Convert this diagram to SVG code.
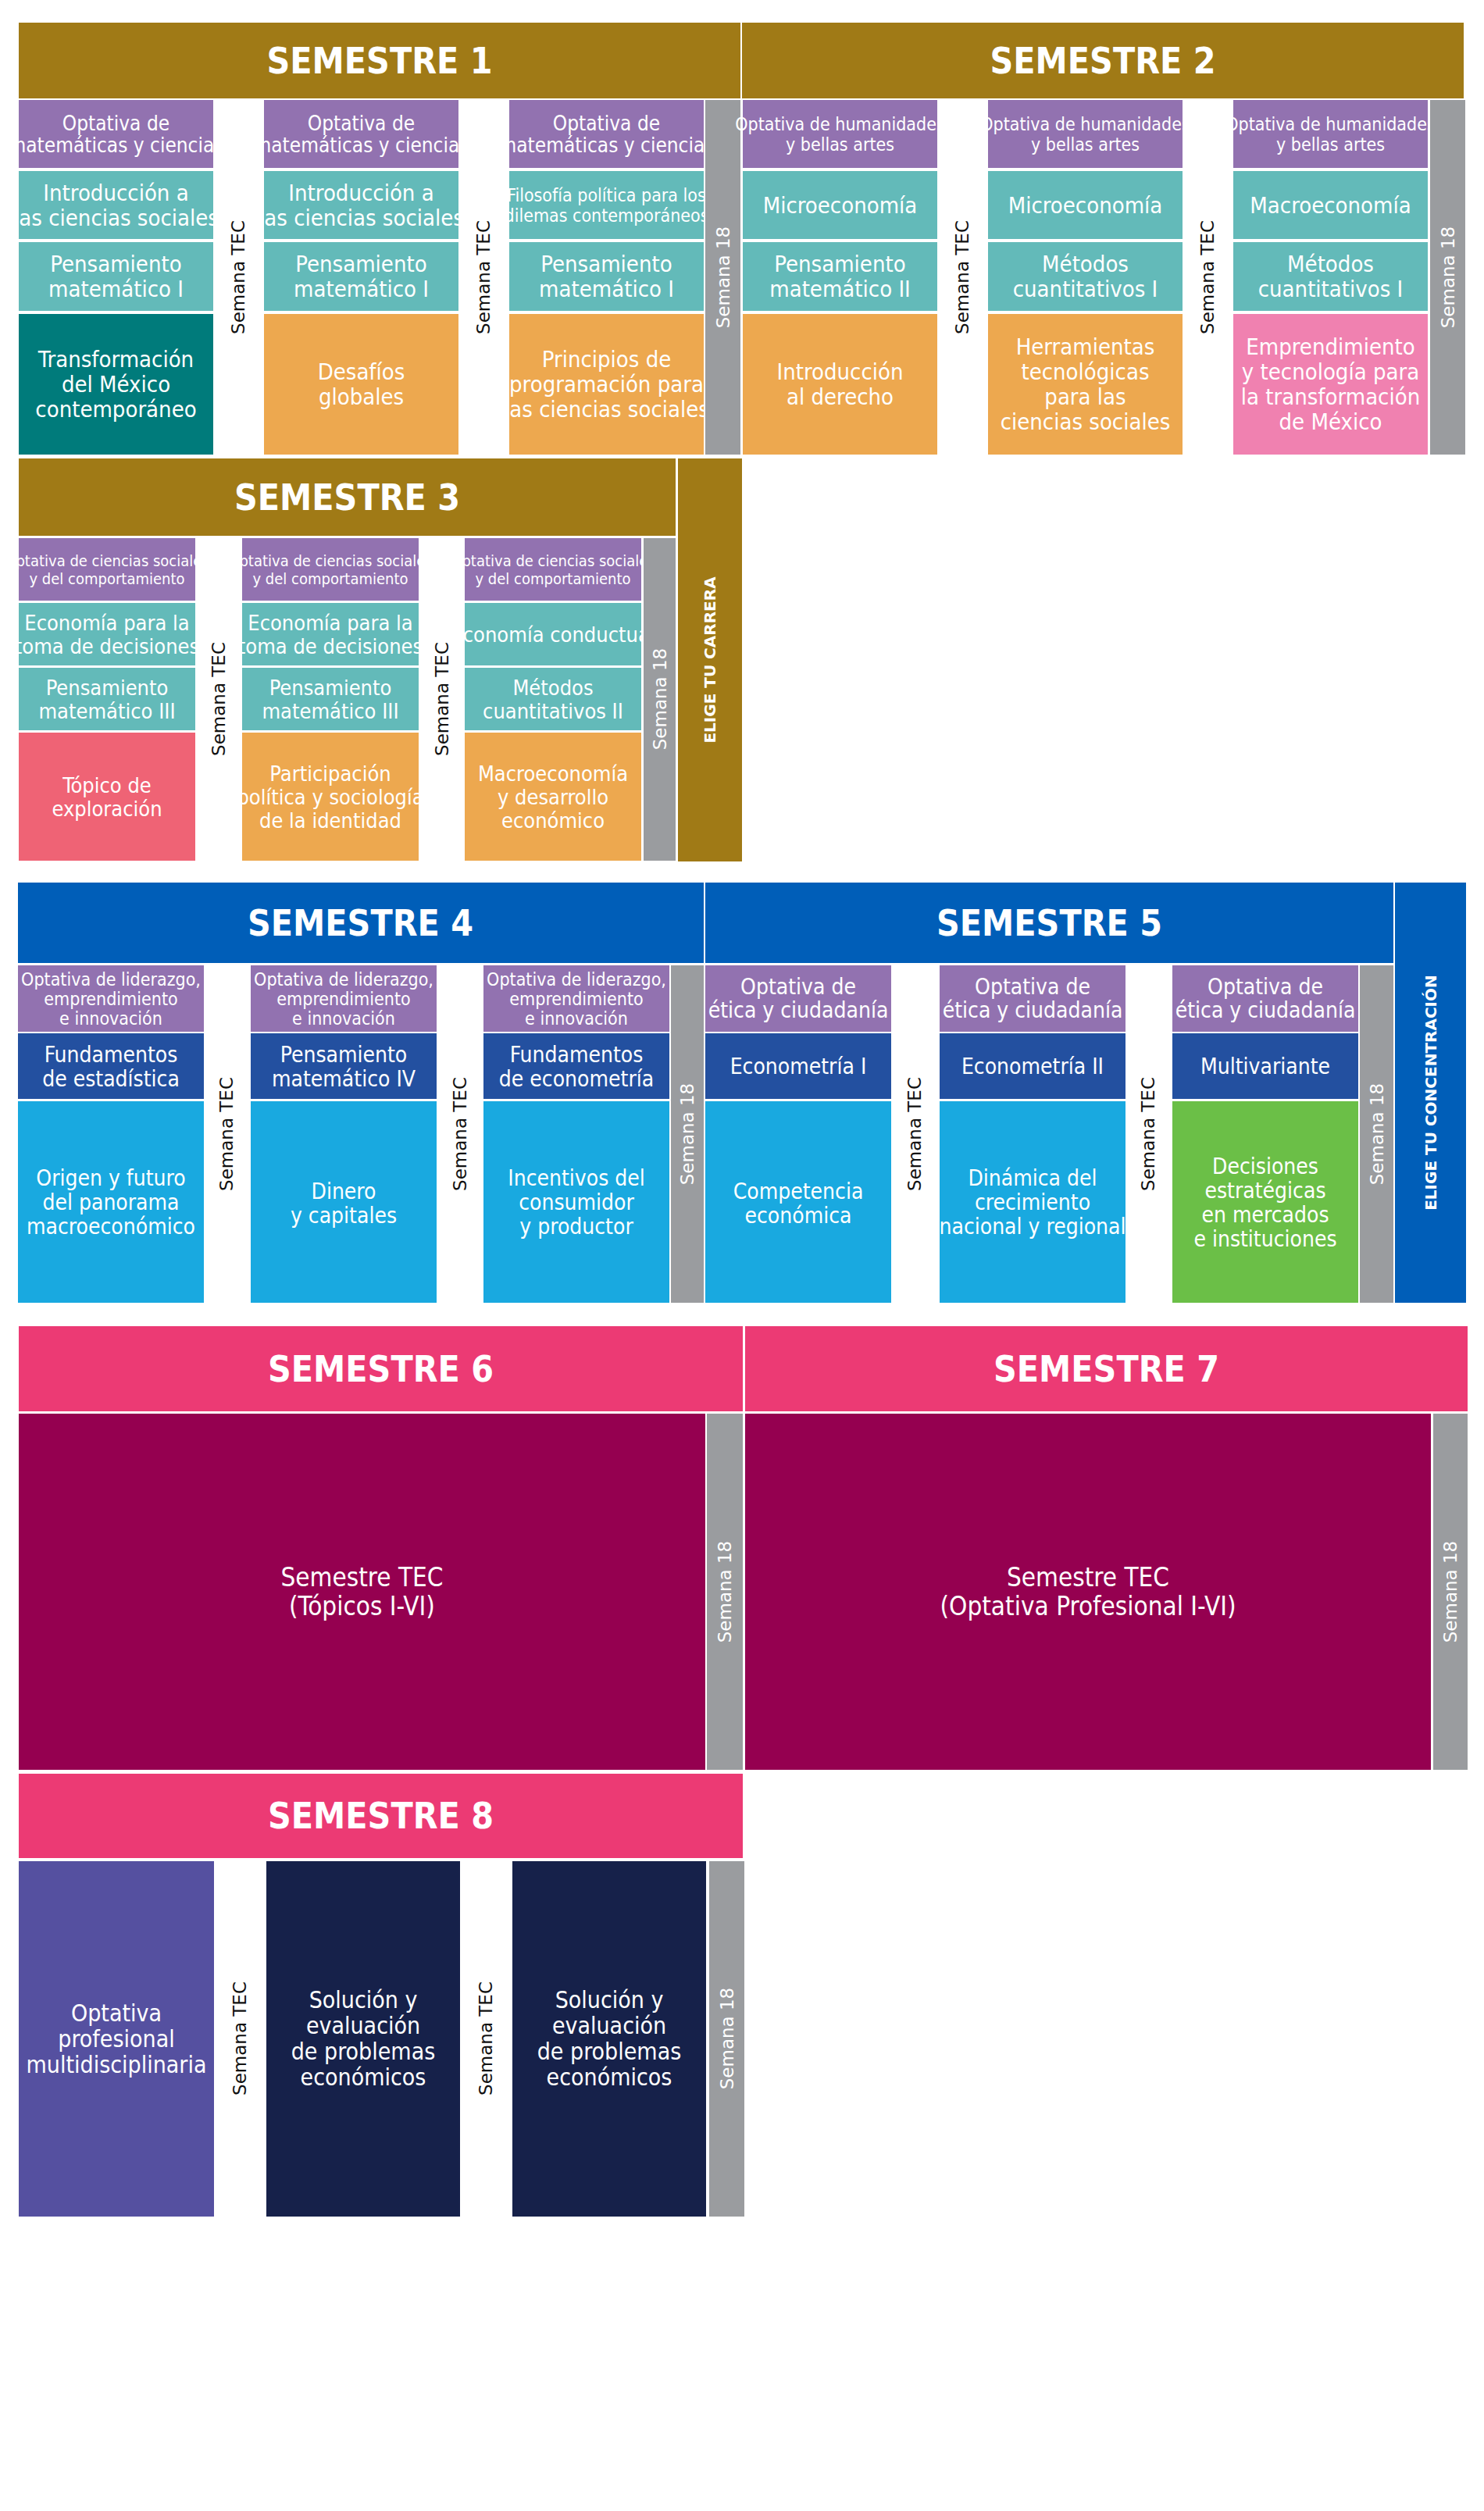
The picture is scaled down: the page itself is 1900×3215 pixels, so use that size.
<svg xmlns="http://www.w3.org/2000/svg" width="1900" height="3215" viewBox="0 0 1900 3215">
<style>
text{fill:#fff;text-anchor:middle;font-family:"Liberation Sans Narrow","DejaVu Sans Condensed","Roboto",sans-serif}
.h{font-size:46px;font-weight:bold}
.t30{font-size:29px}.t26{font-size:26px}.t23{font-size:23px}.s3a{font-size:20px}.s3{font-size:27px}.s4a{font-size:23px}.s4{font-size:28px}.big{font-size:33px}.s8{font-size:30px}
.v{font-family:"DejaVu Sans",Verdana,sans-serif;font-size:23px;dominant-baseline:central}
.tec{fill:#111}
.el{font-family:"DejaVu Sans",Verdana,sans-serif;font-weight:bold;font-size:20px;dominant-baseline:central}
.gold{fill:#A07A16}.pur{fill:#9272B0}.tea{fill:#63BAB9}.dtea{fill:#007B7B}.ora{fill:#EDA84F}.red{fill:#EF6375}.pnk{fill:#F081B0}.gry{fill:#9A9C9F}
.blu{fill:#005EB8}.dblu{fill:#2350A0}.lblu{fill:#19A9E0}.grn{fill:#6BBF47}.mag{fill:#EC3A74}.wine{fill:#950050}.ind{fill:#5550A0}.navy{fill:#16214A}
</style>
<rect width="1900" height="3215" fill="#fff"/>
<g id="connectors"/>
<!-- SEMESTRE 1 -->
<g id="sem1">
<rect class="gold" x="24" y="29" width="924" height="97"/><text class="h" x="486" y="94">SEMESTRE 1</text>
<rect class="pur" x="24" y="128" width="249" height="87"/><text class="t26" x="148.5" y="167"><tspan x="148.5">Optativa de</tspan><tspan x="148.5" dy="28">matemáticas y ciencias</tspan></text>
<rect class="tea" x="24" y="219" width="249" height="87"/><text class="t30" x="148.5" y="257"><tspan x="148.5">Introducción a</tspan><tspan x="148.5" dy="32">las ciencias sociales</tspan></text>
<rect class="tea" x="24" y="310" width="249" height="88"/><text class="t30" x="148.5" y="348"><tspan x="148.5">Pensamiento</tspan><tspan x="148.5" dy="32">matemático I</tspan></text>
<rect class="dtea" x="24" y="402" width="249" height="180"/><text class="t30" x="148.5" y="470"><tspan x="148.5">Transformación</tspan><tspan x="148.5" dy="32">del México</tspan><tspan x="148.5" dy="32">contemporáneo</tspan></text>
<text class="v tec" transform="translate(305,355) rotate(-90)">Semana TEC</text>
<rect class="pur" x="338" y="128" width="249" height="87"/><text class="t26" x="462.5" y="167"><tspan x="462.5">Optativa de</tspan><tspan x="462.5" dy="28">matemáticas y ciencias</tspan></text>
<rect class="tea" x="338" y="219" width="249" height="87"/><text class="t30" x="462.5" y="257"><tspan x="462.5">Introducción a</tspan><tspan x="462.5" dy="32">las ciencias sociales</tspan></text>
<rect class="tea" x="338" y="310" width="249" height="88"/><text class="t30" x="462.5" y="348"><tspan x="462.5">Pensamiento</tspan><tspan x="462.5" dy="32">matemático I</tspan></text>
<rect class="ora" x="338" y="402" width="249" height="180"/><text class="t30" x="462.5" y="486"><tspan x="462.5">Desafíos</tspan><tspan x="462.5" dy="32">globales</tspan></text>
<text class="v tec" transform="translate(619,355) rotate(-90)">Semana TEC</text>
<rect class="pur" x="652" y="128" width="249" height="87"/><text class="t26" x="776.5" y="167"><tspan x="776.5">Optativa de</tspan><tspan x="776.5" dy="28">matemáticas y ciencias</tspan></text>
<rect class="tea" x="652" y="219" width="249" height="87"/><text class="t23" x="776.5" y="257.5"><tspan x="776.5">Filosofía política para los</tspan><tspan x="776.5" dy="26">dilemas contemporáneos</tspan></text>
<rect class="tea" x="652" y="310" width="249" height="88"/><text class="t30" x="776.5" y="348"><tspan x="776.5">Pensamiento</tspan><tspan x="776.5" dy="32">matemático I</tspan></text>
<rect class="ora" x="652" y="402" width="249" height="180"/><text class="t30" x="776.5" y="470"><tspan x="776.5">Principios de</tspan><tspan x="776.5" dy="32">programación para</tspan><tspan x="776.5" dy="32">las ciencias sociales</tspan></text>
<rect class="gry" x="903" y="128" width="45" height="454"/><text class="v" transform="translate(925.5,355) rotate(-90)">Semana 18</text>
</g>
<!-- SEMESTRE 2 -->
<g id="sem2">
<rect class="gold" x="950" y="29" width="924" height="97"/><text class="h" x="1412" y="94">SEMESTRE 2</text>
<rect class="pur" x="951" y="128" width="249" height="87"/><text class="t23" x="1075.5" y="166.5"><tspan x="1075.5">Optativa de humanidades</tspan><tspan x="1075.5" dy="26">y bellas artes</tspan></text>
<rect class="tea" x="951" y="219" width="249" height="87"/><text class="t30" x="1075.5" y="272.5">Microeconomía</text>
<rect class="tea" x="951" y="310" width="249" height="88"/><text class="t30" x="1075.5" y="348"><tspan x="1075.5">Pensamiento</tspan><tspan x="1075.5" dy="32">matemático II</tspan></text>
<rect class="ora" x="951" y="402" width="249" height="180"/><text class="t30" x="1075.5" y="486"><tspan x="1075.5">Introducción</tspan><tspan x="1075.5" dy="32">al derecho</tspan></text>
<text class="v tec" transform="translate(1232,355) rotate(-90)">Semana TEC</text>
<rect class="pur" x="1265" y="128" width="249" height="87"/><text class="t23" x="1389.5" y="166.5"><tspan x="1389.5">Optativa de humanidades</tspan><tspan x="1389.5" dy="26">y bellas artes</tspan></text>
<rect class="tea" x="1265" y="219" width="249" height="87"/><text class="t30" x="1389.5" y="272.5">Microeconomía</text>
<rect class="tea" x="1265" y="310" width="249" height="88"/><text class="t30" x="1389.5" y="348"><tspan x="1389.5">Métodos</tspan><tspan x="1389.5" dy="32">cuantitativos I</tspan></text>
<rect class="ora" x="1265" y="402" width="249" height="180"/><text class="t30" x="1389.5" y="454"><tspan x="1389.5">Herramientas</tspan><tspan x="1389.5" dy="32">tecnológicas</tspan><tspan x="1389.5" dy="32">para las</tspan><tspan x="1389.5" dy="32">ciencias sociales</tspan></text>
<text class="v tec" transform="translate(1546,355) rotate(-90)">Semana TEC</text>
<rect class="pur" x="1579" y="128" width="249" height="87"/><text class="t23" x="1703.5" y="166.5"><tspan x="1703.5">Optativa de humanidades</tspan><tspan x="1703.5" dy="26">y bellas artes</tspan></text>
<rect class="tea" x="1579" y="219" width="249" height="87"/><text class="t30" x="1703.5" y="272.5">Macroeconomía</text>
<rect class="tea" x="1579" y="310" width="249" height="88"/><text class="t30" x="1703.5" y="348"><tspan x="1703.5">Métodos</tspan><tspan x="1703.5" dy="32">cuantitativos I</tspan></text>
<rect class="pnk" x="1579" y="402" width="249" height="180"/><text class="t30" x="1703.5" y="454"><tspan x="1703.5">Emprendimiento</tspan><tspan x="1703.5" dy="32">y tecnología para</tspan><tspan x="1703.5" dy="32">la transformación</tspan><tspan x="1703.5" dy="32">de México</tspan></text>
<rect class="gry" x="1831" y="128" width="45" height="454"/><text class="v" transform="translate(1853.5,355) rotate(-90)">Semana 18</text>
</g>
<!-- SEMESTRE 3 -->
<g id="sem3">
<rect class="gold" x="24" y="587" width="841" height="99"/><text class="h" x="444.5" y="653">SEMESTRE 3</text>
<rect class="gold" x="868" y="587" width="82" height="516"/><text class="el" transform="translate(909,845) rotate(-90)">ELIGE TU CARRERA</text>
<rect class="pur" x="24" y="689" width="226" height="80"/><text class="s3a" x="137" y="724.5"><tspan x="137">Optativa de ciencias sociales</tspan><tspan x="137" dy="23">y del comportamiento</tspan></text>
<rect class="tea" x="24" y="772" width="226" height="80"/><text class="s3" x="137" y="806.5"><tspan x="137">Economía para la</tspan><tspan x="137" dy="30">toma de decisiones</tspan></text>
<rect class="tea" x="24" y="855" width="226" height="80"/><text class="s3" x="137" y="889.5"><tspan x="137">Pensamiento</tspan><tspan x="137" dy="30">matemático III</tspan></text>
<rect class="red" x="24" y="938" width="226" height="164"/><text class="s3" x="137" y="1014.5"><tspan x="137">Tópico de</tspan><tspan x="137" dy="30">exploración</tspan></text>
<text class="v tec" transform="translate(280,895) rotate(-90)">Semana TEC</text>
<rect class="pur" x="310" y="689" width="226" height="80"/><text class="s3a" x="423" y="724.5"><tspan x="423">Optativa de ciencias sociales</tspan><tspan x="423" dy="23">y del comportamiento</tspan></text>
<rect class="tea" x="310" y="772" width="226" height="80"/><text class="s3" x="423" y="806.5"><tspan x="423">Economía para la</tspan><tspan x="423" dy="30">toma de decisiones</tspan></text>
<rect class="tea" x="310" y="855" width="226" height="80"/><text class="s3" x="423" y="889.5"><tspan x="423">Pensamiento</tspan><tspan x="423" dy="30">matemático III</tspan></text>
<rect class="ora" x="310" y="938" width="226" height="164"/><text class="s3" x="423" y="999.5"><tspan x="423">Participación</tspan><tspan x="423" dy="30">política y sociología</tspan><tspan x="423" dy="30">de la identidad</tspan></text>
<text class="v tec" transform="translate(566,895) rotate(-90)">Semana TEC</text>
<rect class="pur" x="595" y="689" width="226" height="80"/><text class="s3a" x="708" y="724.5"><tspan x="708">Optativa de ciencias sociales</tspan><tspan x="708" dy="23">y del comportamiento</tspan></text>
<rect class="tea" x="595" y="772" width="226" height="80"/><text class="s3" x="708" y="821.5">Economía conductual</text>
<rect class="tea" x="595" y="855" width="226" height="80"/><text class="s3" x="708" y="889.5"><tspan x="708">Métodos</tspan><tspan x="708" dy="30">cuantitativos II</tspan></text>
<rect class="ora" x="595" y="938" width="226" height="164"/><text class="s3" x="708" y="999.5"><tspan x="708">Macroeconomía</tspan><tspan x="708" dy="30">y desarrollo</tspan><tspan x="708" dy="30">económico</tspan></text>
<rect class="gry" x="824" y="689" width="41" height="413"/><text class="v" transform="translate(844.5,895) rotate(-90)">Semana 18</text>
</g>
<!-- SEMESTRE 4 -->
<g id="sem4">
<rect class="blu" x="23" y="1130" width="878" height="103"/><text class="h" x="461.5" y="1198">SEMESTRE 4</text>
<rect class="pur" x="23" y="1236" width="238" height="85"/><text class="s4a" x="142" y="1261.5"><tspan x="142">Optativa de liderazgo,</tspan><tspan x="142" dy="25">emprendimiento</tspan><tspan x="142" dy="25">e innovación</tspan></text>
<rect class="dblu" x="23" y="1323" width="238" height="84"/><text class="s4" x="142" y="1359.5"><tspan x="142">Fundamentos</tspan><tspan x="142" dy="31">de estadística</tspan></text>
<rect class="lblu" x="23" y="1410" width="238" height="258"/><text class="s4" x="142" y="1518"><tspan x="142">Origen y futuro</tspan><tspan x="142" dy="31">del panorama</tspan><tspan x="142" dy="31">macroeconómico</tspan></text>
<text class="v tec" transform="translate(290,1452) rotate(-90)">Semana TEC</text>
<rect class="pur" x="321" y="1236" width="238" height="85"/><text class="s4a" x="440" y="1261.5"><tspan x="440">Optativa de liderazgo,</tspan><tspan x="440" dy="25">emprendimiento</tspan><tspan x="440" dy="25">e innovación</tspan></text>
<rect class="dblu" x="321" y="1323" width="238" height="84"/><text class="s4" x="440" y="1359.5"><tspan x="440">Pensamiento</tspan><tspan x="440" dy="31">matemático IV</tspan></text>
<rect class="lblu" x="321" y="1410" width="238" height="258"/><text class="s4" x="440" y="1534.5"><tspan x="440">Dinero</tspan><tspan x="440" dy="31">y capitales</tspan></text>
<text class="v tec" transform="translate(589,1452) rotate(-90)">Semana TEC</text>
<rect class="pur" x="619" y="1236" width="238" height="85"/><text class="s4a" x="738" y="1261.5"><tspan x="738">Optativa de liderazgo,</tspan><tspan x="738" dy="25">emprendimiento</tspan><tspan x="738" dy="25">e innovación</tspan></text>
<rect class="dblu" x="619" y="1323" width="238" height="84"/><text class="s4" x="738" y="1359.5"><tspan x="738">Fundamentos</tspan><tspan x="738" dy="31">de econometría</tspan></text>
<rect class="lblu" x="619" y="1410" width="238" height="258"/><text class="s4" x="738" y="1518"><tspan x="738">Incentivos del</tspan><tspan x="738" dy="31">consumidor</tspan><tspan x="738" dy="31">y productor</tspan></text>
<rect class="gry" x="859" y="1236" width="42" height="432"/><text class="v" transform="translate(880,1452) rotate(-90)">Semana 18</text>
</g>
<!-- SEMESTRE 5 -->
<g id="sem5">
<rect class="blu" x="903" y="1130" width="881" height="103"/><text class="h" x="1343.5" y="1198">SEMESTRE 5</text>
<rect class="blu" x="1786" y="1130" width="91" height="538"/><text class="el" transform="translate(1831.5,1399) rotate(-90)">ELIGE TU CONCENTRACIÓN</text>
<rect class="pur" x="903" y="1236" width="238" height="85"/><text class="s4" x="1022" y="1273"><tspan x="1022">Optativa de</tspan><tspan x="1022" dy="30">ética y ciudadanía</tspan></text>
<rect class="dblu" x="903" y="1323" width="238" height="84"/><text class="s4" x="1022" y="1375">Econometría I</text>
<rect class="lblu" x="903" y="1410" width="238" height="258"/><text class="s4" x="1022" y="1534.5"><tspan x="1022">Competencia</tspan><tspan x="1022" dy="31">económica</tspan></text>
<text class="v tec" transform="translate(1171,1452) rotate(-90)">Semana TEC</text>
<rect class="pur" x="1203" y="1236" width="238" height="85"/><text class="s4" x="1322" y="1273"><tspan x="1322">Optativa de</tspan><tspan x="1322" dy="30">ética y ciudadanía</tspan></text>
<rect class="dblu" x="1203" y="1323" width="238" height="84"/><text class="s4" x="1322" y="1375">Econometría II</text>
<rect class="lblu" x="1203" y="1410" width="238" height="258"/><text class="s4" x="1322" y="1518"><tspan x="1322">Dinámica del</tspan><tspan x="1322" dy="31">crecimiento</tspan><tspan x="1322" dy="31">nacional y regional</tspan></text>
<text class="v tec" transform="translate(1470,1452) rotate(-90)">Semana TEC</text>
<rect class="pur" x="1501" y="1236" width="238" height="85"/><text class="s4" x="1620" y="1273"><tspan x="1620">Optativa de</tspan><tspan x="1620" dy="30">ética y ciudadanía</tspan></text>
<rect class="dblu" x="1501" y="1323" width="238" height="84"/><text class="s4" x="1620" y="1375">Multivariante</text>
<rect class="grn" x="1501" y="1410" width="238" height="258"/><text class="s4" x="1620" y="1502.5"><tspan x="1620">Decisiones</tspan><tspan x="1620" dy="31">estratégicas</tspan><tspan x="1620" dy="31">en mercados</tspan><tspan x="1620" dy="31">e instituciones</tspan></text>
<rect class="gry" x="1741" y="1236" width="43" height="432"/><text class="v" transform="translate(1762.5,1452) rotate(-90)">Semana 18</text>
</g>
<!-- SEMESTRE 6 -->
<g id="sem6">
<rect class="mag" x="24" y="1698" width="927" height="109"/><text class="h" x="487.5" y="1769">SEMESTRE 6</text>
<rect class="wine" x="24" y="1810" width="879" height="456"/><text class="big" x="463.5" y="2031"><tspan x="463.5">Semestre TEC</tspan><tspan x="463.5" dy="37">(Tópicos I-VI)</tspan></text>
<rect class="gry" x="905" y="1810" width="46" height="456"/><text class="v" transform="translate(928,2038) rotate(-90)">Semana 18</text>
</g>
<!-- SEMESTRE 7 -->
<g id="sem7">
<rect class="mag" x="954" y="1698" width="925" height="109"/><text class="h" x="1416.5" y="1769">SEMESTRE 7</text>
<rect class="wine" x="954" y="1810" width="878" height="456"/><text class="big" x="1393" y="2031"><tspan x="1393">Semestre TEC</tspan><tspan x="1393" dy="37">(Optativa Profesional I-VI)</tspan></text>
<rect class="gry" x="1835" y="1810" width="44" height="456"/><text class="v" transform="translate(1857,2038) rotate(-90)">Semana 18</text>
</g>
<!-- SEMESTRE 8 -->
<g id="sem8">
<rect class="mag" x="24" y="2271" width="927" height="108"/><text class="h" x="487.5" y="2341">SEMESTRE 8</text>
<rect class="ind" x="24" y="2383" width="250" height="455"/><text class="s8" x="149" y="2587.5"><tspan x="149">Optativa</tspan><tspan x="149" dy="33">profesional</tspan><tspan x="149" dy="33">multidisciplinaria</tspan></text>
<text class="v tec" transform="translate(307,2610) rotate(-90)">Semana TEC</text>
<rect class="navy" x="341" y="2383" width="248" height="455"/><text class="s8" x="465" y="2571"><tspan x="465">Solución  y</tspan><tspan x="465" dy="33">evaluación</tspan><tspan x="465" dy="33">de problemas</tspan><tspan x="465" dy="33">económicos</tspan></text>
<text class="v tec" transform="translate(622,2610) rotate(-90)">Semana TEC</text>
<rect class="navy" x="656" y="2383" width="248" height="455"/><text class="s8" x="780" y="2571"><tspan x="780">Solución  y</tspan><tspan x="780" dy="33">evaluación</tspan><tspan x="780" dy="33">de problemas</tspan><tspan x="780" dy="33">económicos</tspan></text>
<rect class="gry" x="908" y="2383" width="45" height="455"/><text class="v" transform="translate(930.5,2610) rotate(-90)">Semana 18</text>
</g>
</svg>
